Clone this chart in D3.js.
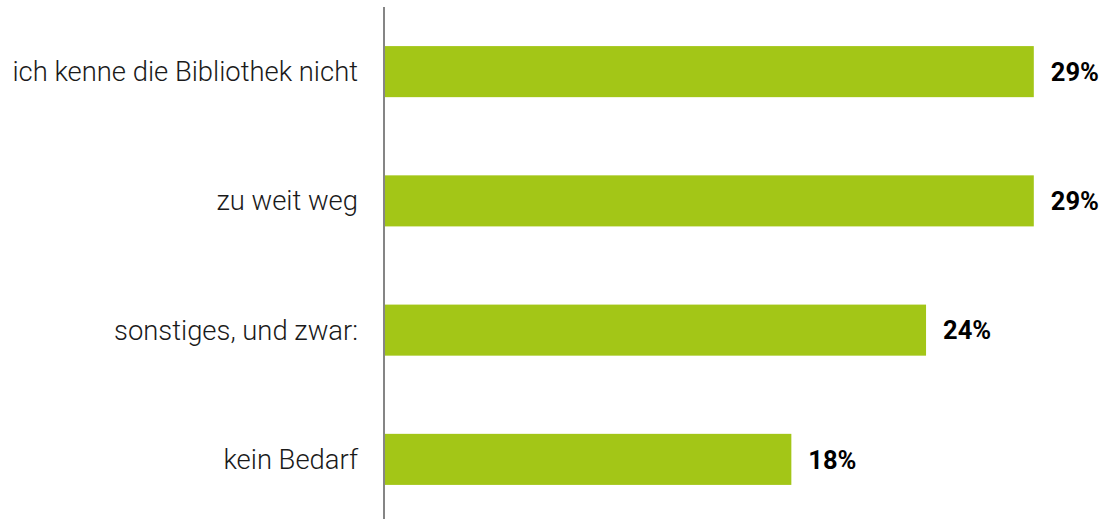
<!DOCTYPE html>
<html>
<head>
<meta charset="utf-8">
<script src="https://cdn.jsdelivr.net/npm/d3@7"></script>
<style>
  body { margin: 0; background: #fff; }
  svg { display: block; }
  .cat { font-family: Roboto, "Noto Sans", sans-serif; font-weight: 300; font-size: 27.4px; fill: #1a1a1a; }
  .val { font-family: Roboto, "Noto Sans", sans-serif; font-weight: 700; font-size: 25.5px; fill: #000; }
</style>
</head>
<body>
<div id="chart"></div>
<script>
var categories = ["ich kenne die Bibliothek nicht", "zu weit weg", "sonstiges, und zwar:", "kein Bedarf"]
var values = [28.9, 28.9, 24.1, 18.1]

var width = 1105
var height = 519
var axisX = 384

var svg = d3.select("#chart").append("svg")
  .attr("width", width)
  .attr("height", height)

var x = d3.scaleLinear()
  .domain([0, 30])
  .range([axisX + 1, axisX + 1 + 22.45 * 30])

var y = d3.scaleBand()
  .domain(categories)
  .range([7, 524])
  .paddingInner(0.605)
  .paddingOuter(0.3025)

var rows = categories.map(function(c, i){ return {cat: c, val: values[i]} })

svg.selectAll("rect.bar")
    .data(rows)
  .enter().append("rect")
    .attr("class", "bar")
    .attr("x", x(0))
    .attr("y", function(d){ return y(d.cat) })
    .attr("width", function(d){ return x(d.val) - x(0) })
    .attr("height", y.bandwidth())
    .style("fill", "#a3c617")

// category labels
svg.selectAll("text.cat")
    .data(rows)
  .enter().append("text")
    .attr("class", "cat")
    .attr("x", axisX - 26)
    .attr("y", function(d){ return y(d.cat) + y.bandwidth()/2 })
    .attr("dy", "0.35em")
    .attr("text-anchor", "end")
    .text(function(d){ return d.cat })

// value labels
svg.selectAll("text.val")
    .data(rows)
  .enter().append("text")
    .attr("class", "val")
    .attr("x", function(d){ return x(d.val) + 17 })
    .attr("y", function(d){ return y(d.cat) + y.bandwidth()/2 })
    .attr("dy", "0.36em")
    .text(function(d){ return d3.format(".0f")(d.val) + "%" })

// axis line
svg.append("line")
  .attr("x1", axisX).attr("x2", axisX)
  .attr("y1", 7).attr("y2", height)
  .style("stroke", "#858585")
  .style("stroke-width", 2)
</script>
</body>
</html>
